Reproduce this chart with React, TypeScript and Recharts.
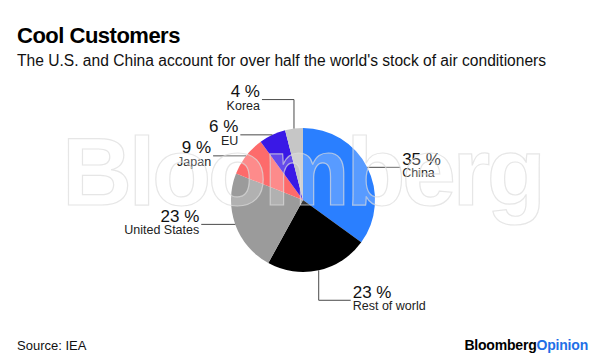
import React from "react";
import { PieChart, Pie, Cell } from "recharts";

const regions = ["China", "Rest of world", "United States", "Japan", "EU", "Korea"];
const shares = [35, 23, 23, 9, 6, 4];
const colors = ["#2a7fff", "#000000", "#9b9b9b", "#fd6b6b", "#3a18e6", "#c6c6c6"];

// leader line layout per slice: h = straight horizontal, v = vertical then horizontal
const leaders: Record<string, { kind: "h" | "v"; dir: number; vLen?: number; hLen: number }> = {
  China: { kind: "h", dir: 1, hLen: 33 },
  "Rest of world": { kind: "v", dir: 1, vLen: 30, hLen: 32 },
  "United States": { kind: "h", dir: -1, hLen: 34 },
  Japan: { kind: "h", dir: -1, hLen: 33 },
  EU: { kind: "h", dir: -1, hLen: 32 },
  Korea: { kind: "v", dir: -1, vLen: -29, hLen: 32 },
};

const data = regions.map((name, i) => ({ name, value: shares[i] }));
const RADIAN = Math.PI / 180;
const FONT = "'Liberation Sans', Arial, Helvetica, sans-serif";

function renderLabel(props: any) {
  const { cx, cy, midAngle, outerRadius, index } = props;
  const name = regions[index];
  const cfg = leaders[name];
  const ex = cx + outerRadius * Math.cos(-midAngle * RADIAN);
  const ey = cy + outerRadius * Math.sin(-midAngle * RADIAN);
  let pts: string;
  let lx: number;
  let ly: number;
  if (cfg.kind === "h") {
    lx = ex + cfg.dir * cfg.hLen;
    ly = ey;
    pts = `${ex},${ey} ${lx},${ly}`;
  } else {
    ly = ey + (cfg.vLen || 0);
    lx = ex + cfg.dir * cfg.hLen;
    pts = `${ex},${ey} ${ex},${ly} ${lx},${ly}`;
  }
  const tx = lx + cfg.dir * 2;
  const anchor = cfg.dir > 0 ? "start" : "end";
  return (
    <g key={`lbl-${index}`}>
      <polyline points={pts} fill="none" stroke="#4a4a4a" strokeWidth={1} />
      <text x={tx} y={ly - 2.5} textAnchor={anchor} fontFamily={FONT} fontSize={17} fill="#111">
        {`${shares[index]} %`}
      </text>
      <text x={tx} y={ly + 10} textAnchor={anchor} fontFamily={FONT} fontSize={12.5} fill="#222">
        {name}
      </text>
    </g>
  );
}

export default function App() {
  return (
    <div style={{ position: "absolute", left: 0, top: 0, width: 600, height: 357, background: "#fff", fontFamily: FONT }}>
      <div style={{ position: "absolute", left: 17, top: 23, fontSize: 22, fontWeight: 700, color: "#000", letterSpacing: -0.5 }}>
        Cool Customers
      </div>
      <div style={{ position: "absolute", left: 17, top: 52, fontSize: 15.6, color: "#111" }}>
        The U.S. and China account for over half the world's stock of air conditioners
      </div>
      <PieChart width={600} height={357} margin={{ top: 0, right: 0, bottom: 0, left: 0 }}>
        <Pie
          data={data}
          dataKey="value"
          nameKey="name"
          cx={303}
          cy={200}
          outerRadius={72}
          startAngle={90}
          endAngle={-270}
          stroke="none"
          label={renderLabel}
          labelLine={false}
          isAnimationActive={false}
        >
          {data.map((d, i) => (
            <Cell key={d.name} fill={colors[i]} />
          ))}
        </Pie>
      </PieChart>
      <svg width={600} height={357} style={{ position: "absolute", left: 0, top: 0, pointerEvents: "none" }}>
        <text
          x={62}
          y={205}
          fontFamily={FONT}
          fontWeight={700}
          fontSize={97}
          letterSpacing={-3.5}
          fill="rgba(255,255,255,0.22)"
          stroke="rgba(220,220,220,0.7)"
          strokeWidth={1.2}
        >
          Bloomberg
        </text>
      </svg>
      <div style={{ position: "absolute", left: 17, top: 338, fontSize: 13, color: "#111" }}>Source: IEA</div>
      <div style={{ position: "absolute", right: 12, top: 337, fontSize: 14, fontWeight: 700, letterSpacing: -0.2 }}>
        <span style={{ color: "#000" }}>Bloomberg</span>
        <span style={{ color: "#1f6fe6" }}>Opinion</span>
      </div>
    </div>
  );
}
